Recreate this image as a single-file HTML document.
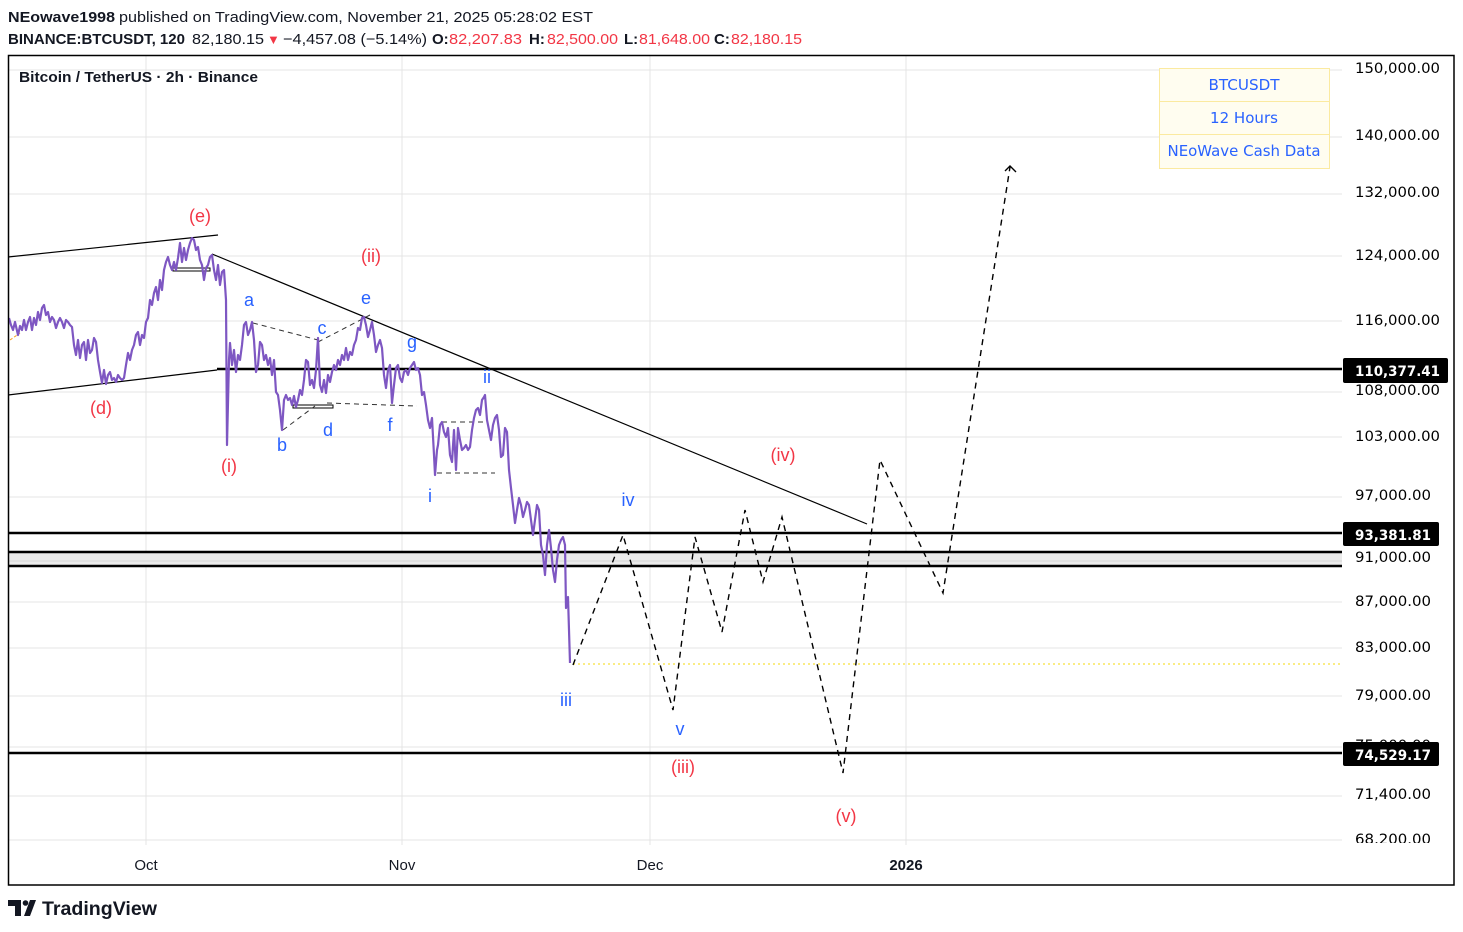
<!DOCTYPE html>
<html><head><meta charset="utf-8"><style>
html,body{margin:0;padding:0;background:#fff;}
svg{display:block;}
</style></head><body>
<svg xmlns="http://www.w3.org/2000/svg" width="1463" height="932" viewBox="0 0 1463 932">
<defs>
<clipPath id="plot"><rect x="8" y="55" width="1334" height="790"/></clipPath>
<clipPath id="axis"><rect x="1342" y="55" width="112" height="788"/></clipPath>
</defs>
<rect width="1463" height="932" fill="#fff"/>

<!-- header -->
<g font-family="Liberation Sans, sans-serif" font-size="15" fill="#131722">
<text x="8" y="22" font-weight="bold" textLength="107" lengthAdjust="spacingAndGlyphs">NEowave1998</text>
<text x="119" y="22" textLength="474" lengthAdjust="spacingAndGlyphs">published on TradingView.com, November 21, 2025 05:28:02 EST</text>
<text x="8" y="44" font-weight="bold" textLength="177" lengthAdjust="spacingAndGlyphs">BINANCE:BTCUSDT, 120</text>
<text x="192" y="44" textLength="72" lengthAdjust="spacingAndGlyphs">82,180.15</text>
<text x="267" y="44" fill="#f23645" font-size="13">▼</text>
<text x="283" y="44" textLength="144" lengthAdjust="spacingAndGlyphs">−4,457.08 (−5.14%)</text>
<text x="432" y="44" font-weight="bold">O:</text>
<text x="449" y="44" fill="#f23645" textLength="73" lengthAdjust="spacingAndGlyphs">82,207.83</text>
<text x="529" y="44" font-weight="bold">H:</text>
<text x="547" y="44" fill="#f23645" textLength="71" lengthAdjust="spacingAndGlyphs">82,500.00</text>
<text x="624" y="44" font-weight="bold">L:</text>
<text x="639" y="44" fill="#f23645" textLength="71" lengthAdjust="spacingAndGlyphs">81,648.00</text>
<text x="714" y="44" font-weight="bold">C:</text>
<text x="731" y="44" fill="#f23645" textLength="71" lengthAdjust="spacingAndGlyphs">82,180.15</text>
</g>

<!-- grid -->
<g stroke="#e4e4e4" stroke-width="1">
<line x1="146" y1="55" x2="146" y2="845"/>
<line x1="402" y1="55" x2="402" y2="845"/>
<line x1="650" y1="55" x2="650" y2="845"/>
<line x1="906" y1="55" x2="906" y2="845"/>
<line x1="8" y1="70" x2="1342" y2="70"/>
<line x1="8" y1="137" x2="1342" y2="137"/>
<line x1="8" y1="194" x2="1342" y2="194"/>
<line x1="8" y1="256" x2="1342" y2="256"/>
<line x1="8" y1="321" x2="1342" y2="321"/>
<line x1="8" y1="392" x2="1342" y2="392"/>
<line x1="8" y1="437" x2="1342" y2="437"/>
<line x1="8" y1="497" x2="1342" y2="497"/>
<line x1="8" y1="602" x2="1342" y2="602"/>
<line x1="8" y1="648" x2="1342" y2="648"/>
<line x1="8" y1="696" x2="1342" y2="696"/>
<line x1="8" y1="747" x2="1342" y2="747"/>
<line x1="8" y1="796" x2="1342" y2="796"/>
<line x1="8" y1="840" x2="1342" y2="840"/>
</g>

<g clip-path="url(#plot)">
<!-- gray band -->
<rect x="8" y="552" width="1334" height="14" fill="#ebebeb"/>
<line x1="8" y1="561" x2="1342" y2="561" stroke="#d6d6d6" stroke-width="1"/>
<!-- horizontal levels -->
<g stroke="#000" stroke-width="2.5">
<line x1="217" y1="369" x2="1342" y2="369"/>
<line x1="8" y1="533" x2="1342" y2="533"/>
<line x1="8" y1="552" x2="1342" y2="552"/>
<line x1="8" y1="566" x2="1342" y2="566"/>
<line x1="8" y1="753" x2="1342" y2="753"/>
</g>
<!-- yellow dotted -->
<line x1="573" y1="664" x2="1342" y2="664" stroke="#f5d90a" stroke-width="1" stroke-dasharray="2 3"/>

<!-- trend lines -->
<g stroke="#000" stroke-width="1.2" fill="none">
<line x1="8" y1="257" x2="218" y2="235"/>
<line x1="8" y1="395" x2="217" y2="370"/>
<line x1="212" y1="254" x2="867" y2="524"/>
<rect x="173" y="268" width="37" height="3" stroke-width="1"/>
<rect x="293" y="405" width="40" height="3" stroke-width="1"/>
</g>
<!-- dashed helper lines -->
<g stroke="#333" stroke-width="1" fill="none" stroke-dasharray="5 4">
<line x1="253" y1="323" x2="318" y2="340"/>
<line x1="318" y1="342" x2="370" y2="315"/>
<line x1="283" y1="430" x2="315" y2="406"/>
<line x1="327" y1="403" x2="417" y2="406"/>
<line x1="437" y1="473" x2="495" y2="473"/>
<line x1="442" y1="422" x2="487" y2="422"/>
</g>

<!-- small orange mark -->
<line x1="10" y1="340" x2="20" y2="333" stroke="#f7a21b" stroke-width="1" stroke-dasharray="3 2"/>

<!-- price series -->
<polyline fill="none" stroke="#7e57c2" stroke-width="2.2" stroke-linejoin="round" points="9,318 11,325 13,330 15,322 18,335 20,326 22,330 24,320 26,330 28,322 30,317 32,330 34,318 36,325 38,312 40,320 42,308 44,305 46,315 48,312 50,322 52,317 54,320 56,328 58,322 60,318 62,322 64,328 66,320 68,322 70,325 72,327 74,345 76,355 78,340 80,358 82,345 84,342 86,360 88,340 90,353 92,350 94,338 96,342 98,360 100,372 102,383 104,370 106,384 108,375 110,372 112,380 114,378 116,382 118,375 120,378 122,380 124,378 126,365 128,353 130,360 132,350 134,345 136,335 138,332 140,345 142,335 144,338 146,322 148,318 150,300 152,305 154,293 156,287 158,300 160,280 162,290 164,270 166,262 168,257 170,265 172,270 174,262 176,270 178,258 180,243 182,262 184,248 186,260 188,250 190,243 192,238 194,240 196,250 198,247 200,260 202,265 204,280 206,268 208,265 210,257 212,255 214,270 216,280 218,265 220,285 222,272 224,270 226,300 227,445 229,360 230,343 232,365 234,350 236,372 238,355 240,360 242,345 244,325 246,322 248,335 250,330 252,322 254,340 256,372 258,365 260,342 262,345 264,360 266,355 268,365 270,358 272,375 274,360 276,392 278,395 280,410 282,430 284,400 286,395 288,400 290,398 292,405 294,396 296,407 298,400 300,390 302,395 304,380 306,360 308,362 310,385 312,380 314,388 316,370 318,338 320,385 322,392 324,380 326,393 328,375 330,382 332,372 334,365 336,370 338,360 340,365 342,355 344,360 346,348 348,360 350,352 352,355 354,345 356,340 358,328 360,330 362,318 364,317 366,325 368,337 370,330 372,322 374,335 376,352 378,345 380,340 382,348 384,375 386,388 388,370 390,365 392,403 394,385 396,368 398,365 400,378 402,382 404,372 406,370 408,375 410,368 412,365 414,362 416,370 418,368 420,375 422,395 424,392 426,405 428,420 430,428 432,418 434,455 435,475 437,450 438,445 440,425 442,422 444,432 446,437 448,428 450,455 452,462 454,430 456,470 458,428 460,440 462,450 464,448 466,445 468,450 470,447 472,430 474,418 476,410 478,408 480,415 482,400 484,397 485,395 487,420 489,430 491,440 493,425 495,418 497,415 499,430 501,457 503,455 505,428 507,432 509,470 511,488 513,505 515,523 517,510 519,498 521,505 523,517 525,510 527,502 529,505 531,520 533,535 535,520 537,505 539,510 541,545 543,555 545,575 547,545 549,530 551,548 553,570 555,582 557,560 559,545 561,540 563,537 565,545 566,608 567,600 568,597 570,663"/>

<!-- projection -->
<polyline fill="none" stroke="#000" stroke-width="1.4" stroke-dasharray="6 5" points="573,665 623,535 673,710 695,537 722,632 745,510 763,582 782,517 843,773 880,460 943,593 1010,167"/>
<polyline fill="none" stroke="#000" stroke-width="1.4" points="1005,171 1010,166 1016,172"/>
</g>

<!-- wave labels -->
<g font-family="Liberation Sans, sans-serif" font-size="18" text-anchor="middle" fill="#f23645">
<text x="200" y="222">(e)</text>
<text x="101" y="414">(d)</text>
<text x="229" y="472">(i)</text>
<text x="371" y="262">(ii)</text>
<text x="683" y="773">(iii)</text>
<text x="783" y="461">(iv)</text>
<text x="846" y="822">(v)</text>
</g>
<g font-family="Liberation Sans, sans-serif" font-size="18" text-anchor="middle" fill="#2962ff">
<text x="249" y="306">a</text>
<text x="282" y="451">b</text>
<text x="322" y="334">c</text>
<text x="328" y="436">d</text>
<text x="366" y="304">e</text>
<text x="390" y="431">f</text>
<text x="412" y="348">g</text>
<text x="487" y="383">ii</text>
<text x="430" y="502">i</text>
<text x="566" y="706">iii</text>
<text x="628" y="506">iv</text>
<text x="680" y="735">v</text>
</g>

<!-- chart title -->
<text x="19" y="82" font-family="Liberation Sans, sans-serif" font-size="15" font-weight="bold" fill="#131722" textLength="239" lengthAdjust="spacingAndGlyphs">Bitcoin / TetherUS · 2h · Binance</text>

<!-- legend box -->
<g>
<rect x="1159.5" y="68.5" width="170" height="100" fill="#fffdf0" stroke="#fbeaa0" stroke-width="1"/>
<line x1="1159.5" y1="101.5" x2="1329.5" y2="101.5" stroke="#fbeaa0"/>
<line x1="1159.5" y1="134.5" x2="1329.5" y2="134.5" stroke="#fbeaa0"/>
<g font-family="DejaVu Sans, sans-serif" font-size="15" fill="#2962ff" text-anchor="middle">
<text x="1244" y="90" textLength="71" lengthAdjust="spacingAndGlyphs">BTCUSDT</text>
<text x="1244" y="123" textLength="68" lengthAdjust="spacingAndGlyphs">12 Hours</text>
<text x="1244" y="156" textLength="153" lengthAdjust="spacingAndGlyphs">NEoWave Cash Data</text>
</g>
</g>

<!-- price axis labels -->
<g clip-path="url(#axis)" font-family="DejaVu Sans, sans-serif" font-size="14.5" fill="#000">
<text x="1355" y="73" textLength="85" lengthAdjust="spacingAndGlyphs">150,000.00</text>
<text x="1355" y="140" textLength="85" lengthAdjust="spacingAndGlyphs">140,000.00</text>
<text x="1355" y="197" textLength="85" lengthAdjust="spacingAndGlyphs">132,000.00</text>
<text x="1355" y="260" textLength="85" lengthAdjust="spacingAndGlyphs">124,000.00</text>
<text x="1355" y="325" textLength="85" lengthAdjust="spacingAndGlyphs">116,000.00</text>
<text x="1355" y="395" textLength="85" lengthAdjust="spacingAndGlyphs">108,000.00</text>
<text x="1355" y="441" textLength="85" lengthAdjust="spacingAndGlyphs">103,000.00</text>
<text x="1355" y="500" textLength="76" lengthAdjust="spacingAndGlyphs">97,000.00</text>
<text x="1355" y="562" textLength="76" lengthAdjust="spacingAndGlyphs">91,000.00</text>
<text x="1355" y="606" textLength="76" lengthAdjust="spacingAndGlyphs">87,000.00</text>
<text x="1355" y="652" textLength="76" lengthAdjust="spacingAndGlyphs">83,000.00</text>
<text x="1355" y="700" textLength="76" lengthAdjust="spacingAndGlyphs">79,000.00</text>
<text x="1355" y="750" textLength="76" lengthAdjust="spacingAndGlyphs">75,000.00</text>
<text x="1355" y="799" textLength="76" lengthAdjust="spacingAndGlyphs">71,400.00</text>
<text x="1355" y="844" textLength="76" lengthAdjust="spacingAndGlyphs">68,200.00</text>
</g>
<!-- price boxes -->
<g font-family="DejaVu Sans, sans-serif" font-size="14.5" font-weight="bold" fill="#fff">
<rect x="1343" y="358" width="105" height="25" rx="2" fill="#000"/>
<text x="1355" y="376" textLength="85" lengthAdjust="spacingAndGlyphs">110,377.41</text>
<rect x="1343" y="522" width="96" height="24" rx="2" fill="#000"/>
<text x="1355" y="540" textLength="76" lengthAdjust="spacingAndGlyphs">93,381.81</text>
<rect x="1343" y="742" width="96" height="24" rx="2" fill="#000"/>
<text x="1355" y="760" textLength="76" lengthAdjust="spacingAndGlyphs">74,529.17</text>
</g>

<!-- time axis -->
<g font-family="Liberation Sans, sans-serif" font-size="15" fill="#131722" text-anchor="middle">
<text x="146" y="870">Oct</text>
<text x="402" y="870">Nov</text>
<text x="650" y="870">Dec</text>
<text x="906" y="870" font-weight="bold">2026</text>
</g>

<!-- frame -->
<rect x="8.5" y="55.5" width="1445.5" height="829.5" fill="none" stroke="#000" stroke-width="1.5"/>

<!-- TradingView logo -->
<g fill="#131722">
<rect x="8" y="900" width="13" height="6"/>
<rect x="15" y="900" width="6" height="16"/>
<circle cx="25.5" cy="903" r="2.8"/>
<polygon points="30,900 36,900 30,916 24,916"/>
<text x="42" y="915" font-family="Liberation Sans, sans-serif" font-size="19" font-weight="bold" textLength="115" lengthAdjust="spacingAndGlyphs">TradingView</text>
</g>
</svg>
</body></html>
